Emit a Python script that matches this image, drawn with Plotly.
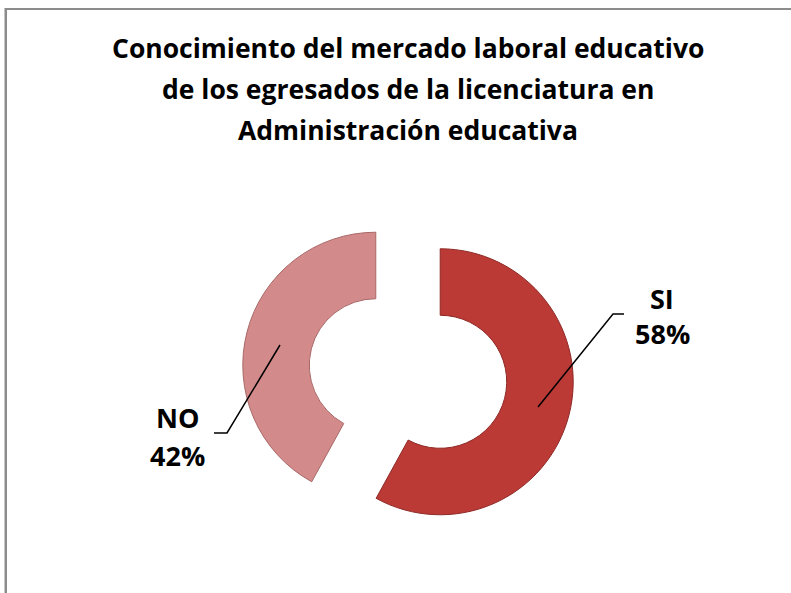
import plotly.graph_objects as go

W, H = 791, 593

labels = ["SI", "NO"]
values = [58, 42]
colors = ["#BB3A36", "#D38A8A"]
line_colors = ["#8E2926", "#A96868"]
pulls = [0.25, 0.25]

title_lines = [
    "Conocimiento del mercado laboral educativo",
    "de los egresados de la licenciatura en",
    "Administración educativa",
]


def px(x, y):
    return x / W, 1 - y / H


fig = go.Figure()

cx, cy, R = 408, 373.5, 133
ext = R * (1 + max(pulls))
fig.add_trace(go.Pie(
    labels=labels,
    values=values,
    hole=0.5,
    sort=False,
    direction="clockwise",
    rotation=0,
    pull=pulls,
    marker=dict(colors=colors, line=dict(color=line_colors, width=1)),
    textinfo="none",
    hoverinfo="label+percent",
    showlegend=False,
    domain=dict(x=[(cx - ext) / W, (cx + ext) / W],
                y=[1 - (cy + ext) / H, 1 - (cy - ext) / H]),
))

font_family = "Open Sans, sans-serif"
annotations = []
for txt, ty in zip(title_lines, [48, 89, 130]):
    x, y = px(407.5, ty)
    annotations.append(dict(text="<b>%s</b>" % txt, x=x, y=y, xref="paper", yref="paper",
                            xanchor="center", yanchor="middle", showarrow=False,
                            font=dict(family=font_family, size=26.5, color="#000000")))

total = sum(values)
pct = [round(v * 100 / total) for v in values]
label_pos = {"SI": [(662, 298), (662, 333)], "NO": [(177, 417), (177, 455)]}
for lab, p in zip(labels, pct):
    for txt, (lx, ly) in zip([lab, "%d%%" % p], label_pos[lab]):
        x, y = px(lx, ly)
        annotations.append(dict(text="<b>%s</b>" % txt, x=x, y=y, xref="paper", yref="paper",
                                xanchor="center", yanchor="middle", showarrow=False,
                                font=dict(family=font_family, size=27, color="#000000")))


def path(points):
    s = ""
    for i, (x, y) in enumerate(points):
        X, Y = px(x, y)
        s += ("M" if i == 0 else "L") + " %.5f %.5f " % (X, Y)
    return s


shapes = [
    dict(type="path", xref="paper", yref="paper",
         path=path([(538, 407), (613, 314), (624, 314)]),
         line=dict(color="#000000", width=1.5)),
    dict(type="path", xref="paper", yref="paper",
         path=path([(280, 345), (227, 433), (214, 433)]),
         line=dict(color="#000000", width=1.5)),
    # chart frame: only top and left edges fall inside the picture
    dict(type="path", xref="paper", yref="paper",
         path=path([(5.5, 593), (5.5, 9), (791, 9)]),
         line=dict(color="#8C8C8C", width=2)),
]

fig.update_layout(
    width=W, height=H,
    margin=dict(l=0, r=0, t=0, b=0),
    paper_bgcolor="#FFFFFF",
    plot_bgcolor="#FFFFFF",
    annotations=annotations,
    shapes=shapes,
)

# frame drawn additionally as page CSS so it is not hidden by plot layers
html = fig.to_html(config={"displayModeBar": False}, include_plotlyjs=True, full_html=True)
css = ("<style>html,body{margin:0;padding:0;overflow:hidden;background:#fff;}"
       "body::before{content:'';position:fixed;left:4.5px;top:8px;right:-10px;bottom:-10px;"
       "border-top:2px solid #8C8C8C;border-left:2px solid #8C8C8C;pointer-events:none;z-index:10;}"
       "</style>")
html = html.replace("<head>", "<head>" + css, 1)
with open("out.html", "w", encoding="utf-8") as f:
    f.write(html)
